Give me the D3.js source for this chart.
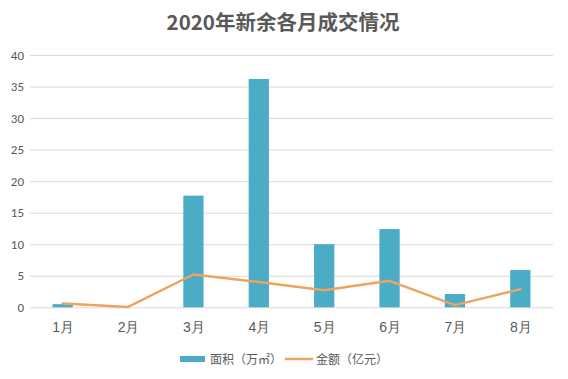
<!DOCTYPE html>
<html><head><meta charset="utf-8">
<script src="https://cdn.jsdelivr.net/npm/d3@7"></script>
<style>
html,body{margin:0;padding:0;background:#fff;}
svg{display:block;font-family:"Noto Sans CJK SC","Microsoft YaHei",sans-serif;}
</style></head>
<body>
<svg id="c" width="568" height="379"></svg>
<script>
const title = "2020年新余各月成交情况";
const months = ["1月","2月","3月","4月","5月","6月","7月","8月"];
const areaValues = [0.5, 0, 17.7, 36.2, 10.0, 12.4, 2.1, 5.9];
const amountValues = [0.6, 0.05, 5.2, 4.0, 2.7, 4.2, 0.35, 2.85];
const yTicks = [0,5,10,15,20,25,30,35,40];
const seriesNames = ["面积（万㎡）","金额（亿元）"];

const W = 568, H = 379;
const margin = {left:30, right:15, top:55, bottom:72};
const svg = d3.select("#c");
svg.append("rect").attr("width",W).attr("height",H).attr("fill","#fff");

const x = d3.scaleBand().domain(months).range([margin.left, W - margin.right]).paddingInner(0.69).paddingOuter(0.345);
const xc = d3.scalePoint().domain(months).range([margin.left, W - margin.right]).padding(0.5);
const y = d3.scaleLinear().domain([0,40]).range([H - margin.bottom + 0.3, margin.top]);

// title
svg.append("text").attr("x", 283).attr("y", 30).attr("text-anchor","middle")
  .attr("font-size", 20.5).attr("font-weight","bold").attr("fill","#595959").text(title);

// grid
const gy = svg.append("g").attr("transform", `translate(${margin.left},0)`)
  .call(d3.axisLeft(y).tickValues(yTicks).tickSize(-(W - margin.left - margin.right)).tickPadding(6));
gy.select(".domain").remove();
gy.selectAll(".tick line").attr("stroke","#d9d9d9").attr("stroke-width",1);
gy.selectAll(".tick text").attr("fill","#595959").attr("font-size",13).attr("font-family","Carlito,Calibri,'Liberation Sans',sans-serif");

// x axis labels
const gx = svg.append("g").attr("transform", `translate(0,${y(0)})`)
  .call(d3.axisBottom(xc).tickSize(0).tickPadding(15));
gx.select(".domain").remove();
gx.selectAll(".tick text").attr("fill","#595959").attr("font-size",14);

// bars
svg.append("g").selectAll("rect").data(months).join("rect")
  .attr("x", d => x(d)).attr("width", x.bandwidth())
  .attr("y", (d,i) => y(areaValues[i])).attr("height", (d,i) => y(0) - y(areaValues[i]))
  .attr("fill", "#4bacc6");

// line
const line = d3.line().x((d,i) => xc(months[i])).y(d => y(d));
svg.append("path").datum(amountValues).attr("d", line)
  .attr("fill","none").attr("stroke","#f0a35e").attr("stroke-width",2.5).attr("stroke-linejoin","round").attr("stroke-linecap","round");

// legend
const lg = svg.append("g");
lg.append("rect").attr("x",180).attr("y",356).attr("width",25).attr("height",6).attr("fill","#4bacc6");
lg.append("text").attr("x",210).attr("y",364).attr("font-size",12).attr("fill","#595959").text(seriesNames[0]);
lg.append("line").attr("x1",285).attr("x2",313).attr("y1",359).attr("y2",359).attr("stroke","#f0a35e").attr("stroke-width",2.5);
lg.append("text").attr("x",316).attr("y",364).attr("font-size",12).attr("fill","#595959").text(seriesNames[1]);
</script>
</body></html>
